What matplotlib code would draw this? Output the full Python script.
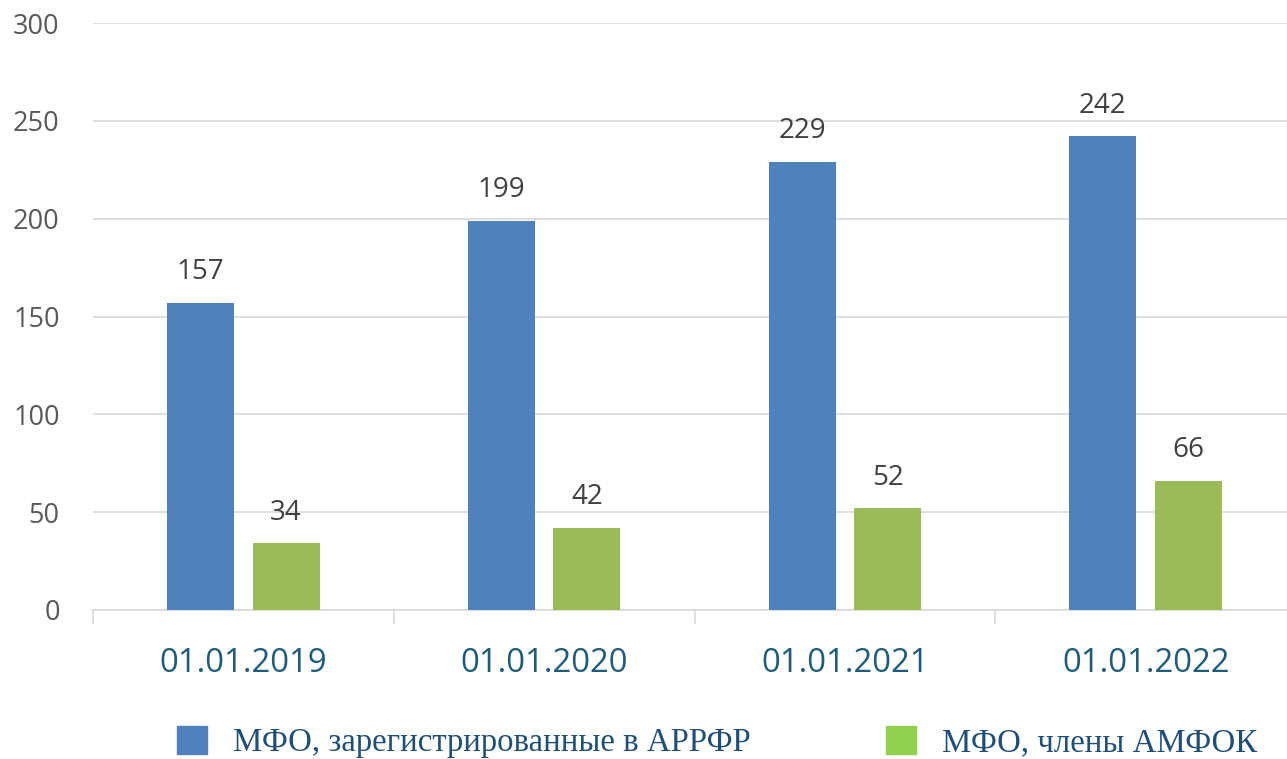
import matplotlib.pyplot as plt
from matplotlib.patches import Patch
import numpy as np

# data
dates = ["01.01.2019", "01.01.2020", "01.01.2021", "01.01.2022"]
arrfr = [157, 199, 229, 242]
amfok = [34, 42, 52, 66]
series_names = ["МФО, зарегистрированные в АРРФР", "МФО, члены АМФОК"]

BLUE = "#4f81bd"
GREEN = "#9bbb59"
GREEN_LEG = "#92d050"

fig = plt.figure(figsize=(12.87, 7.59), dpi=100)
# plot area runs slightly past the right edge, as in the original
ax = fig.add_axes([93 / 1287, 1 - 610 / 759, (1296 - 93) / 1287, (610 - 23) / 759])

x = np.arange(len(dates))
w = 0.223
off = 0.142
b1 = ax.bar(x - off, arrfr, w, color=BLUE, zorder=3)
b2 = ax.bar(x + off, amfok, w, color=GREEN, zorder=3)

for bars, vals in ((b1, arrfr), (b2, amfok)):
    for r, v in zip(bars, vals):
        ax.annotate(str(v), (r.get_x() + r.get_width() / 2, v), xytext=(0, 12),
                    textcoords="offset points", ha="center", va="bottom",
                    fontsize=20, color="#404040", family="Open Sans")

ax.set_xlim(-0.5, len(dates) - 0.5)
ax.set_ylim(0, 300)
ax.set_yticks(range(0, 301, 50))
ax.grid(axis="y", color="#d9d9d9", linewidth=1.2, zorder=0)

for s in ["top", "right", "left"]:
    ax.spines[s].set_visible(False)
ax.spines["bottom"].set_color("#d9d9d9")
ax.spines["bottom"].set_linewidth(1.2)

ax.set_xticks(x)
ax.set_xticklabels(dates)
ax.set_xticks(np.arange(-0.5, len(dates), 1), minor=True)
ax.tick_params(axis="x", which="major", length=0, pad=27, labelsize=23.7,
               labelcolor="#1f5c7a")
ax.tick_params(axis="x", which="minor", length=10, width=1.2, color="#d9d9d9",
               direction="out")
ax.tick_params(axis="y", length=0, pad=24, labelsize=19.5, labelcolor="#595959")
for lab in ax.get_xticklabels() + ax.get_yticklabels():
    lab.set_family("Open Sans")

handles = [Patch(color=BLUE), Patch(color=GREEN_LEG)]
fig.legend(handles, series_names, loc="center left",
           bbox_to_anchor=(177 / 1287, 17 / 759), ncol=2, frameon=False,
           borderpad=0, borderaxespad=0, handlelength=0.92, handleheight=0.92,
           handletextpad=0.8, columnspacing=4.1,
           prop={"family": "Liberation Serif", "size": 23.6},
           labelcolor="#1f4e79")

fig.savefig("out.png", dpi=100)
